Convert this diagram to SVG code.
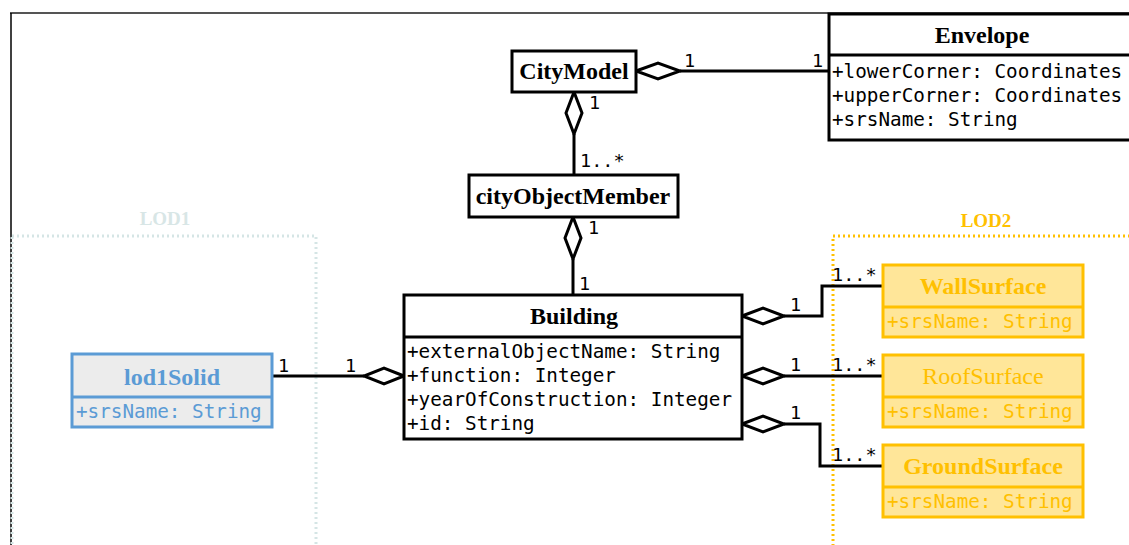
<svg xmlns="http://www.w3.org/2000/svg" width="1129" height="545" viewBox="0 0 1129 545">
<style>
.box{fill:#fff;stroke:#000;stroke-width:3}
.title{font-family:"Liberation Serif",serif;font-weight:bold;font-size:24px;text-anchor:middle;dominant-baseline:central}
.attr{font-family:"DejaVu Sans Mono",monospace;font-size:19.3px;dominant-baseline:central}
.mult{font-family:"DejaVu Sans Mono",monospace;font-size:18.5px;fill:#000}
.conn{fill:none;stroke:#000;stroke-width:3}
.dia{fill:#fff;stroke:#000;stroke-width:3}
.bbox{fill:#ececec;stroke:#5b9bd5;stroke-width:3}
.ybox{fill:#ffe699;stroke:#ffc000;stroke-width:3}
</style>
<rect width="1129" height="545" fill="#fff"/>
<line x1="10" y1="13" x2="1129" y2="13" stroke="#555" stroke-width="2"/>
<line x1="11" y1="13" x2="11" y2="545" stroke="#000" stroke-width="1.5"/>

<g id="lod1-frame">
<rect x="12" y="236" width="304" height="330" fill="none" stroke="#d5e5e5" stroke-width="3" stroke-dasharray="2,3"/>
<text x="165" y="218" class="title" style="font-size:19px;fill:#d8e6e6">LOD1</text>
</g>
<g id="lod2-frame">
<rect x="833" y="236" width="330" height="330" fill="none" stroke="#ffc000" stroke-width="3" stroke-dasharray="2,3"/>
<text x="986" y="220" class="title" style="font-size:19px;fill:#ffc000">LOD2</text>
</g>

<g id="connectors">
<line class="conn" x1="680" y1="71" x2="829" y2="71"/>
<polygon class="dia" points="636,71 658,63 680,71 658,79"/>
<text class="mult" x="684" y="67">1</text>
<text class="mult" x="812" y="67">1</text>

<line class="conn" x1="574" y1="134" x2="574" y2="175"/>
<polygon class="dia" points="574,92 566,113 574,134 582,113"/>
<text class="mult" x="589" y="109">1</text>
<text class="mult" x="580" y="167">1..*</text>

<line class="conn" x1="573" y1="259" x2="573" y2="295"/>
<polygon class="dia" points="573,217 565,238 573,259 581,238"/>
<text class="mult" x="588" y="234">1</text>
<text class="mult" x="579" y="290">1</text>

<line class="conn" x1="272" y1="376" x2="364" y2="376"/>
<polygon class="dia" points="404,376 384,368 364,376 384,384"/>
<text class="mult" x="278" y="372">1</text>
<text class="mult" x="345" y="372">1</text>

<polyline class="conn" points="784,316 822,316 822,286 883,286"/>
<polygon class="dia" points="742,316 763,308 784,316 763,324"/>
<text class="mult" x="790" y="311">1</text>
<text class="mult" x="832" y="281">1..*</text>

<line class="conn" x1="784" y1="376" x2="883" y2="376"/>
<polygon class="dia" points="742,376 763,368 784,376 763,384"/>
<text class="mult" x="790" y="371">1</text>
<text class="mult" x="832" y="371">1..*</text>

<polyline class="conn" points="784,424 820,424 820,466 883,466"/>
<polygon class="dia" points="742,424 763,416 784,424 763,432"/>
<text class="mult" x="790" y="419">1</text>
<text class="mult" x="832" y="461">1..*</text>
</g>

<g id="CityModel">
<rect class="box" x="512" y="51" width="124" height="41"/>
<text class="title" x="574" y="71">CityModel</text>
</g>

<g id="Envelope">
<rect class="box" x="829" y="14" width="320" height="126"/>
<line x1="829" y1="55" x2="1129" y2="55" stroke="#000" stroke-width="3"/>
<text class="title" x="982" y="35">Envelope</text>
<text class="attr" x="832" y="71">+lowerCorner: Coordinates</text>
<text class="attr" x="832" y="95">+upperCorner: Coordinates</text>
<text class="attr" x="832" y="119">+srsName: String</text>
</g>

<g id="cityObjectMember">
<rect class="box" x="469" y="175" width="209" height="42"/>
<text class="title" x="573" y="196">cityObjectMember</text>
</g>

<g id="Building">
<rect class="box" x="404" y="295" width="338" height="144"/>
<line x1="404" y1="337" x2="742" y2="337" stroke="#000" stroke-width="3"/>
<text class="title" x="574" y="316">Building</text>
<text class="attr" x="407" y="351">+externalObjectName: String</text>
<text class="attr" x="407" y="375">+function: Integer</text>
<text class="attr" x="407" y="399">+yearOfConstruction: Integer</text>
<text class="attr" x="407" y="423">+id: String</text>
</g>

<g id="lod1Solid">
<rect class="bbox" x="72" y="354" width="200" height="73"/>
<line x1="72" y1="397" x2="272" y2="397" stroke="#5b9bd5" stroke-width="3"/>
<text class="title" x="172" y="377" fill="#5b9bd5">lod1Solid</text>
<text class="attr" x="76" y="411" fill="#5b9bd5">+srsName: String</text>
</g>

<g id="WallSurface">
<rect class="ybox" x="883" y="265" width="200" height="72"/>
<line x1="883" y1="307" x2="1083" y2="307" stroke="#ffc000" stroke-width="3"/>
<text class="title" x="983" y="286" fill="#ffc000">WallSurface</text>
<text class="attr" x="887" y="321" fill="#ffc000">+srsName: String</text>
</g>

<g id="RoofSurface">
<rect class="ybox" x="883" y="355" width="200" height="72"/>
<line x1="883" y1="397" x2="1083" y2="397" stroke="#ffc000" stroke-width="3"/>
<text class="title" x="983" y="376" fill="#ffc000" style="font-weight:normal">RoofSurface</text>
<text class="attr" x="887" y="411" fill="#ffc000">+srsName: String</text>
</g>

<g id="GroundSurface">
<rect class="ybox" x="883" y="445" width="200" height="72"/>
<line x1="883" y1="487" x2="1083" y2="487" stroke="#ffc000" stroke-width="3"/>
<text class="title" x="983" y="466" fill="#ffc000">GroundSurface</text>
<text class="attr" x="887" y="501" fill="#ffc000">+srsName: String</text>
</g>
</svg>
